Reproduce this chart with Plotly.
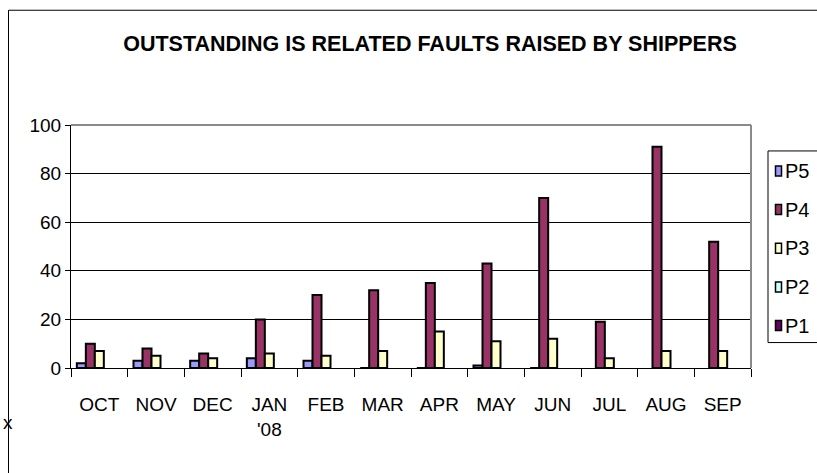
import plotly.graph_objects as go

months = ["OCT", "NOV", "DEC", "JAN<br>'08", "FEB", "MAR", "APR", "MAY", "JUN", "JUL", "AUG", "SEP"]
series_names = ["P5", "P4", "P3", "P2", "P1"]
p5 = [2, 3, 3, 4, 3, 0, 0, 1, 0, None, None, None]
p4 = [10, 8, 6, 20, 30, 32, 35, 43, 70, 19, 91, 52]
p3 = [7, 5, 4, 6, 5, 7, 15, 11, 12, 4, 7, 7]
p2 = [None] * 12
p1 = [None] * 12
series_values = [p5, p4, p3, p2, p1]
colors = ["#9999FF", "#993366", "#FFFFCC", "#CCFFFF", "#660066"]

W, H = 817, 473
L, R, T, B = 71, 751, 125, 368.5
FONT = "Liberation Sans, Arial, sans-serif"


def px(x):
    return (x - L) / (R - L)


def py(y):
    return (B - y) / (B - T)


fig = go.Figure()
for name, vals, col in zip(series_names, series_values, colors):
    fig.add_trace(go.Bar(
        x=months, y=vals, name=name,
        marker=dict(color=col, line=dict(color="black", width=2)),
        showlegend=False,
    ))

shapes = []
annotations = []
# outer chart frame
shapes.append(dict(type="rect", xref="paper", yref="paper",
                   x0=px(8.5), x1=px(830), y0=py(490), y1=py(10),
                   line=dict(color="black", width=1), layer="below"))
# plot area gray border (top and right)
shapes.append(dict(type="line", xref="paper", yref="paper",
                   x0=0, x1=1, y0=1, y1=1,
                   line=dict(color="#8a8a8a", width=2)))
shapes.append(dict(type="line", xref="paper", yref="paper",
                   x0=1, x1=1, y0=0, y1=1,
                   line=dict(color="#8a8a8a", width=2)))
# legend box
shapes.append(dict(type="rect", xref="paper", yref="paper",
                   x0=px(768), x1=px(835), y0=py(343), y1=py(151),
                   line=dict(color="black", width=1), fillcolor="white"))
for i, (name, col) in enumerate(zip(series_names, colors)):
    cy = 171 + i * 38.75
    shapes.append(dict(type="rect", xref="paper", yref="paper",
                       x0=px(775.5), x1=px(781.5), y0=py(cy + 5), y1=py(cy - 5),
                       line=dict(color="black", width=1.5), fillcolor=col))
    annotations.append(dict(text=name, xref="paper", yref="paper",
                            x=px(782.5), y=py(cy), xanchor="left", yanchor="middle",
                            showarrow=False, font=dict(family=FONT, size=20, color="black")))

annotations.append(dict(text="x", xref="paper", yref="paper",
                        x=px(8), y=py(423), xanchor="center", yanchor="middle",
                        showarrow=False, font=dict(family=FONT, size=19, color="black")))

fig.update_layout(
    width=W, height=H,
    margin=dict(l=L, r=W - R, t=T, b=H - B, autoexpand=False),
    paper_bgcolor="white", plot_bgcolor="white",
    barmode="group", bargap=0.206, bargroupgap=0,
    title=dict(text="<b>OUTSTANDING IS RELATED FAULTS RAISED BY SHIPPERS</b>",
               x=430 / W, xanchor="center", xref="container",
               y=1 - 43 / H, yanchor="middle", yref="container",
               font=dict(family=FONT, size=21.5, color="black")),
    font=dict(family=FONT, color="black"),
    showlegend=False,
    shapes=shapes,
    annotations=annotations,
)
fig.update_xaxes(
    type="category", showline=True, linecolor="black", linewidth=1,
    ticks="outside", tickson="boundaries", ticklen=8, tickcolor="black",
    tickfont=dict(family=FONT, size=19, color="black"), tickangle=0,
    ticklabelstandoff=19, showgrid=False, zeroline=False,
)
fig.update_yaxes(
    range=[0, 100], dtick=20, showline=True, linecolor="black", linewidth=1,
    ticks="outside", ticklen=5, tickcolor="black",
    tickfont=dict(family=FONT, size=19, color="black"),
    showgrid=True, gridcolor="black", gridwidth=1, zeroline=False,
)

fig.write_html("out.html", post_script="document.body.style.margin='0';",
               config={"displayModeBar": False})
